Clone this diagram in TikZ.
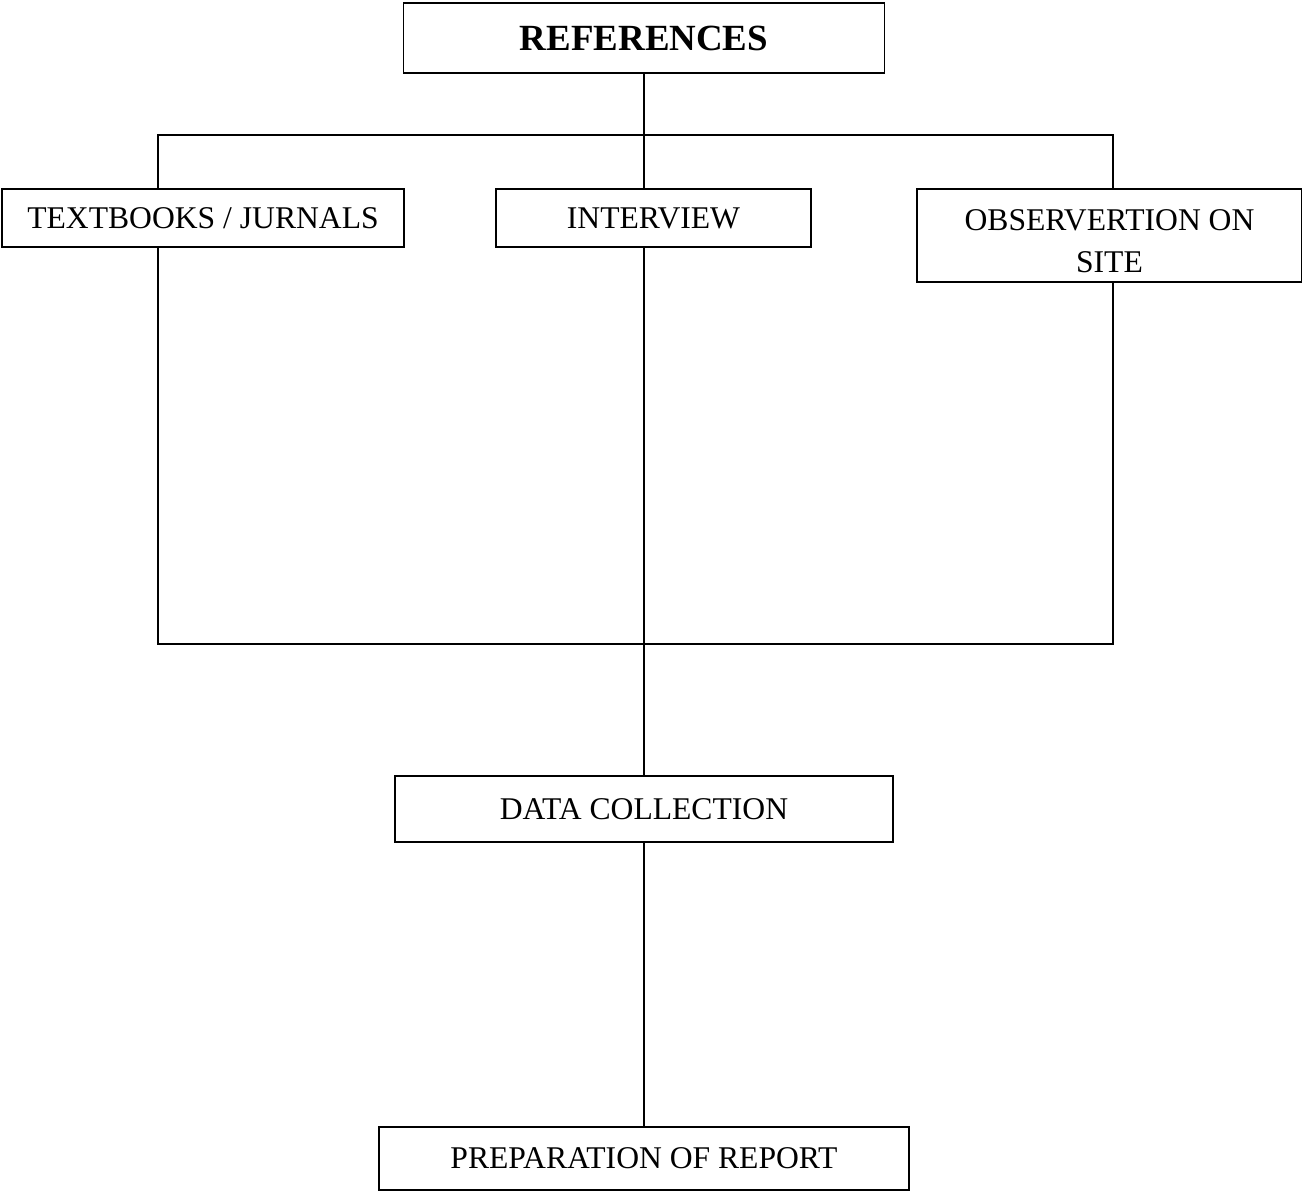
\documentclass[tikz,border=0pt]{standalone}
\usepackage{fontspec}
\setmainfont{Liberation Serif}
\usetikzlibrary{calc}

\begin{document}
\begin{tikzpicture}[x=0.02cm,y=-0.02cm,line width=0.8pt,
	box/.style={draw,rectangle,inner sep=2pt,align=center,
		font=\fontsize{18}{24}\selectfont}]
	\useasboundingbox (0,0) rectangle (1302,1192);
	\node[box,font=\fontsize{21}{25}\selectfont\bfseries,minimum width=9.62cm,minimum height=1.4cm] (refs) at (644,38) {REFERENCES};
	\node[box,minimum width=8.04cm,minimum height=1.16cm] (books) at (203,218) {TEXTBOOKS / JURNALS};
	\node[box,minimum width=6.3cm,minimum height=1.16cm] (interview) at (653.5,218) {INTERVIEW};
	\node[box,minimum width=7.7cm,minimum height=1.86cm,text height=1.5cm] (observe) at (1109.5,235.5) {OBSERVERTION ON\\SITE};
	\node[box,minimum width=9.96cm,minimum height=1.32cm] (data) at (644,809) {DATA COLLECTION};
	\node[box,minimum width=10.6cm,minimum height=1.26cm] (report) at (644,1158.5) {PREPARATION OF REPORT};
	
	\coordinate (tl) at (158,135);
	\coordinate (tr) at (1113,135);
	\coordinate (bl) at (158,644);
	\coordinate (br) at (1113,644);
	
	\draw (refs.south) -- (refs.south |- interview.north);
	\draw (tl |- books.north) -- (tl) -- (tr) -- (tr |- observe.north);
	\draw (books.south -| bl) -- (bl) -- (br) -- (observe.south -| br);
	\draw (interview.south -| data.north) -- (data.north);
	\draw (data) -- (report);
\end{tikzpicture}
\end{document}
